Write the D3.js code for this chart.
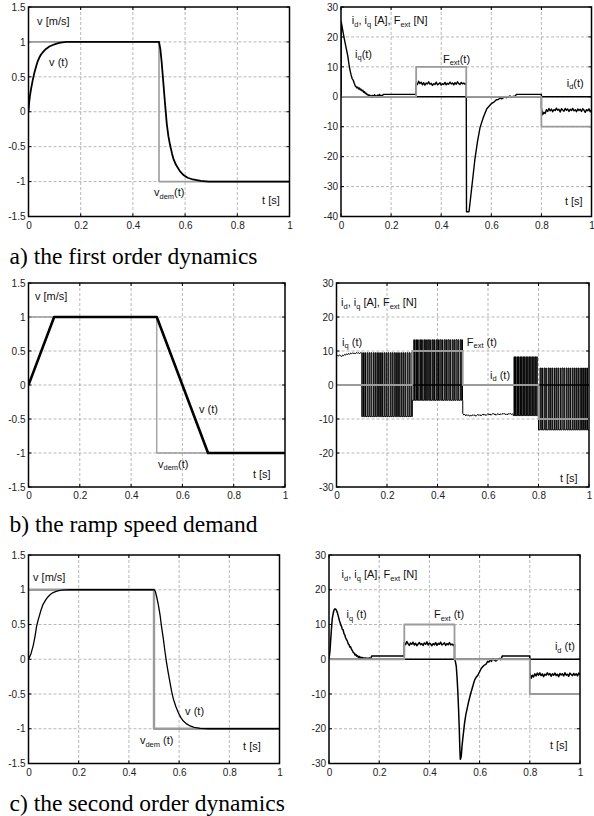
<!DOCTYPE html>
<html><head><meta charset="utf-8">
<script src="https://cdn.jsdelivr.net/npm/d3@7"></script>
<style>body{margin:0;background:#fff}svg{display:block}</style>
</head><body>
<script>
// ---------------- DATA ----------------
const tTicks = [0, 0.2, 0.4, 0.6, 0.8, 1];
const tTickLabels = ["0", "0.2", "0.4", "0.6", "0.8", "1"];
const vTicks = [-1.5, -1, -0.5, 0, 0.5, 1, 1.5];
const vTickLabels = ["-1.5", "-1", "-0.5", "0", "0.5", "1", "1.5"];
const iTicksA = [-40, -30, -20, -10, 0, 10, 20, 30];
const iTickLabelsA = ["-40", "-30", "-20", "-10", "0", "10", "20", "30"];
const iTicksBC = [-30, -20, -10, 0, 10, 20, 30];
const iTickLabelsBC = ["-30", "-20", "-10", "0", "10", "20", "30"];

// speed demand (same step for all three cases)
const vDem = [[0, 1], [0.5, 1], [0.5, -1], [1, -1]];
// external force (same for all three cases)
const fExt = [[0, 0], [0.3, 0], [0.3, 10], [0.5, 10], [0.5, 0], [0.8, 0], [0.8, -10], [1, -10]];
// d-axis current (all cases)
const idA = [[0, 0], [1, 0]];
const idB = [[0, 0], [1, 0]];
const idC = [[0, 0], [1, 0]];

// a) first order dynamics - speed
const vA = [[0,0],[0.003,0.15],[0.006,0.24],[0.01,0.33],[0.016,0.45],[0.022,0.55],[0.03,0.66],[0.035,0.72],
  [0.042,0.78],[0.048,0.82],[0.057,0.86],[0.067,0.9],[0.08,0.935],[0.093,0.956],[0.105,0.972],[0.118,0.985],
  [0.13,0.993],[0.145,1],[0.5,1],[0.505,0.9],[0.51,0.72],[0.517,0.4],[0.523,0.12],[0.53,-0.18],[0.536,-0.35],
  [0.542,-0.47],[0.55,-0.6],[0.555,-0.67],[0.565,-0.76],[0.58,-0.85],[0.595,-0.91],[0.61,-0.945],[0.63,-0.97],
  [0.66,-0.99],[0.69,-1],[1,-1]];
// a) q-axis current
const iqA = [[0,0],[0.001,25],[0.007,22.2],[0.013,19.4],[0.02,16.5],[0.027,13.7],[0.033,10.2],[0.037,8.5],[0.04,7.4],
  [0.044,6.2],[0.047,5.7],[0.05,5.3],[0.053,4.5],[0.057,3.6],[0.06,3.4],[0.063,3.0],[0.067,3.2],[0.07,2.6],[0.074,2.9],
  [0.077,2.3],[0.08,2.5],[0.084,2.0],[0.087,2.2],[0.09,1.5],[0.094,1.7],[0.097,1.1],[0.1,1.2],[0.104,0.7],[0.107,0.8],
  [0.11,0.3],[0.114,0.6],[0.117,0.1],[0.12,0.4],[0.124,-0.2],[0.127,0.5],[0.13,0.0],[0.134,0.7],[0.137,0.1],[0.14,0.4],
  [0.144,-0.1],[0.147,0.6],[0.15,0.2],[0.154,0.8],[0.157,0.0],[0.16,0.5],[0.164,0.2],[0.167,0.6],[0.17,0.8],[0.3,0.8],
  [0.3,4.6],[0.305,4.1],[0.31,5.2],[0.315,4.4],[0.32,4.9],[0.325,4.0],[0.33,4.7],[0.335,3.9],[0.34,4.6],[0.345,4.3],
  [0.35,5.0],[0.355,4.2],[0.36,4.5],[0.365,3.8],[0.37,4.4],[0.375,4.1],[0.38,4.9],[0.385,4.0],[0.39,4.3],[0.395,4.7],
  [0.4,3.9],[0.405,4.4],[0.41,4.1],[0.415,4.8],[0.42,4.0],[0.425,4.5],[0.43,4.2],[0.435,4.9],[0.44,4.3],[0.445,4.6],
  [0.45,4.0],[0.455,4.7],[0.46,4.2],[0.465,5.0],[0.47,4.4],[0.475,4.1],[0.48,4.8],[0.485,4.3],[0.49,4.6],[0.495,4.2],
  [0.5,4.5],[0.501,-38.4],[0.511,-38.4],[0.515,-35.5],[0.521,-31],[0.528,-25.8],[0.535,-20.6],[0.545,-14.9],
  [0.555,-10.3],[0.568,-6.9],[0.582,-4],[0.6,-2.3],[0.61,-1.8],[0.62,-1.0],[0.628,-0.9],[0.635,-0.4],[0.642,-0.7],
  [0.648,-0.3],[0.655,0.1],[0.66,-0.3],[0.668,0],[0.675,0.3],[0.68,-0.1],[0.69,0.2],[0.695,0.1],[0.7,0.8],[0.8,0.8],
  [0.8,-3.5],[0.805,-6.0],[0.81,-5.2],[0.815,-5.6],[0.82,-4.3],[0.825,-4.9],[0.83,-3.9],[0.835,-4.7],[0.84,-4.1],
  [0.845,-5.0],[0.85,-4.3],[0.855,-4.6],[0.86,-3.8],[0.865,-4.5],[0.87,-4.2],[0.875,-5.1],[0.88,-4.0],[0.885,-4.4],
  [0.89,-4.8],[0.895,-3.9],[0.9,-4.5],[0.905,-4.1],[0.91,-4.9],[0.915,-4.2],[0.92,-4.6],[0.925,-3.9],[0.93,-4.7],
  [0.935,-4.3],[0.94,-5.0],[0.945,-4.1],[0.95,-4.6],[0.955,-4.2],[0.96,-4.9],[0.965,-4.0],[0.97,-4.5],[0.975,-5.2],
  [0.98,-4.3],[0.985,-4.7],[0.99,-4.0],[0.995,-5.0],[1,-4.4]];

// b) ramp speed demand - speed
const vB = [[0, 0], [0.1, 1], [0.5, 1], [0.7, -1], [1, -1]];
// b) q-axis current: smooth parts
const iqB_start = [[0,8.4],[0.004,8.7],[0.008,8.5],[0.012,8.9],[0.016,8.6],[0.02,8.3],[0.024,8.8],[0.028,8.6],
  [0.032,9.0],[0.036,8.8],[0.04,9.2],[0.044,8.9],[0.048,9.3],[0.052,9.0],[0.056,9.4],[0.06,9.2],[0.064,9.5],
  [0.068,9.1],[0.072,9.4],[0.076,9.2],[0.08,9.6],[0.084,9.3],[0.088,9.5],[0.092,9.2],[0.096,9.6],[0.1,9.4]];
const iqB_mid = [[0.5,-8.3],[0.504,-8.8],[0.508,-8.6],[0.512,-9.1],[0.516,-8.7],[0.52,-9.0],[0.524,-8.8],[0.528,-9.2],
  [0.532,-8.9],[0.536,-9.1],[0.54,-8.7],[0.544,-9.0],[0.548,-8.8],[0.552,-9.2],[0.556,-8.9],[0.56,-8.6],[0.564,-9.0],
  [0.568,-8.7],[0.572,-9.1],[0.576,-8.8],[0.58,-8.5],[0.584,-8.9],[0.588,-8.6],[0.592,-9.0],[0.596,-8.7],[0.6,-8.4],
  [0.604,-8.8],[0.608,-8.5],[0.612,-8.9],[0.616,-8.6],[0.62,-8.3],[0.624,-8.7],[0.628,-8.5],[0.632,-8.9],[0.636,-8.6],
  [0.64,-8.4],[0.644,-8.8],[0.648,-8.5],[0.652,-8.7],[0.656,-8.4],[0.66,-8.6],[0.664,-8.3],[0.668,-8.7],[0.672,-8.5],
  [0.676,-8.8],[0.68,-8.4],[0.684,-8.6],[0.688,-8.3],[0.692,-8.7],[0.696,-8.5],[0.7,-8.6]];
// b) q-axis current: chattering intervals (levels and switching instants)
const chatB1Levels = [9.5, -9.3];
const chatB1Switch = [0.1,0.104,0.107,0.112,0.115,0.121,0.124,0.129,0.132,0.137,0.140,0.146,0.149,0.154,0.157,0.162,0.166,
  0.171,0.174,0.179,0.182,0.188,0.191,0.196,0.199,0.204,0.207,0.213,0.216,0.221,0.224,0.229,0.233,0.238,0.241,0.246,
  0.249,0.255,0.258,0.263,0.266,0.271,0.274,0.280,0.283,0.288,0.291,0.296,0.299,0.3];
const chatB2Levels = [13.3, -4.5];
const chatB2Switch = [0.3,0.306,0.309,0.314,0.317,0.321,0.324,0.330,0.333,0.337,0.340,0.346,0.349,0.353,0.356,0.361,0.365,
  0.369,0.372,0.378,0.381,0.385,0.388,0.394,0.397,0.401,0.404,0.409,0.413,0.417,0.420,0.426,0.429,0.433,0.436,0.441,
  0.445,0.449,0.452,0.458,0.461,0.465,0.468,0.473,0.477,0.481,0.484,0.490,0.493,0.496,0.499,0.5];
const chatB3Levels = [8.3, -9.0];
const chatB3Switch = [0.7,0.703,0.705,0.709,0.711,0.715,0.717,0.721,0.723,0.727,0.729,0.733,0.735,0.739,0.741,0.745,0.747,
  0.751,0.753,0.757,0.759,0.763,0.765,0.769,0.771,0.775,0.777,0.781,0.783,0.787,0.789,0.793,0.795,0.8];
const chatB4Levels = [5.0, -13.2];
const chatB4Switch = [0.8,0.806,0.809,0.813,0.816,0.822,0.825,0.829,0.831,0.838,0.841,0.845,0.848,0.853,0.856,0.862,0.864,
  0.869,0.872,0.877,0.880,0.886,0.888,0.893,0.897,0.901,0.904,0.910,0.913,0.918,0.921,0.926,0.928,0.934,0.937,0.942,
  0.945,0.950,0.953,0.958,0.961,0.967,0.970,0.975,0.978,0.983,0.986,0.991,0.994,1];

// c) second order dynamics - speed
const vC = [[0,0],[0.01,0.08],[0.019,0.2],[0.026,0.33],[0.032,0.47],[0.038,0.56],[0.043,0.62],[0.05,0.71],[0.058,0.79],
  [0.068,0.85],[0.078,0.9],[0.088,0.935],[0.098,0.96],[0.11,0.978],[0.125,0.99],[0.145,0.998],[0.17,1],[0.5,1],
  [0.505,0.98],[0.51,0.91],[0.517,0.79],[0.524,0.64],[0.53,0.47],[0.537,0.3],[0.543,0.13],[0.55,-0.05],[0.557,-0.2],
  [0.564,-0.34],[0.57,-0.46],[0.577,-0.57],[0.587,-0.68],[0.597,-0.77],[0.607,-0.84],[0.617,-0.89],[0.63,-0.93],
  [0.644,-0.96],[0.66,-0.98],[0.684,-0.995],[0.72,-1],[1,-1]];
// c) q-axis current
const iqC = [[0,0],[0.004,2.5],[0.007,5.8],[0.01,9],[0.013,11.7],[0.017,13.3],[0.02,14.2],[0.024,14.5],[0.027,14.4],
  [0.03,14],[0.033,13.5],[0.037,12.4],[0.042,11],[0.047,9.9],[0.05,9.4],[0.053,8.6],[0.056,8.5],[0.06,7.3],[0.063,7.0],
  [0.066,6.2],[0.07,5.6],[0.073,5.3],[0.076,4.5],[0.08,4.2],[0.083,3.5],[0.086,3.6],[0.09,2.8],[0.093,2.5],[0.096,2.0],
  [0.1,1.8],[0.104,1.2],[0.107,1.4],[0.11,0.9],[0.114,1.0],[0.117,0.5],[0.12,0.8],[0.124,0.3],[0.127,0.6],[0.13,0.2],
  [0.134,0.5],[0.137,0.1],[0.14,0.4],[0.144,0.0],[0.147,0.4],[0.15,0.1],[0.154,0.3],[0.157,0.0],[0.16,0.4],[0.164,0.1],
  [0.167,0.3],[0.17,0.9],[0.3,0.9],
  [0.3,4.8],[0.305,4.2],[0.31,5.1],[0.315,4.5],[0.32,4.0],[0.325,4.7],[0.33,4.3],[0.335,4.9],[0.34,4.1],[0.345,4.6],
  [0.35,3.9],[0.355,4.4],[0.36,4.8],[0.365,4.2],[0.37,4.5],[0.375,4.0],[0.38,4.7],[0.385,4.3],[0.39,5.0],[0.395,4.1],
  [0.4,4.6],[0.405,4.4],[0.41,3.9],[0.415,4.5],[0.42,4.2],[0.425,4.8],[0.43,4.0],[0.435,4.6],[0.44,4.3],[0.445,4.9],
  [0.45,4.1],[0.455,4.4],[0.46,4.7],[0.465,4.0],[0.47,4.5],[0.475,4.2],[0.48,4.8],[0.485,4.1],[0.49,4.4],[0.495,4.0],
  [0.5,4.3],[0.5,0.3],[0.503,-0.5],[0.507,-2],[0.51,-5],[0.513,-9],[0.516,-14],[0.519,-20],[0.521,-25],[0.523,-28.8],
  [0.525,-28.5],[0.527,-27.8],[0.53,-25],[0.533,-22.9],[0.537,-20.3],[0.54,-18.4],[0.545,-16],[0.551,-14],[0.557,-12],
  [0.564,-10],[0.572,-8],[0.58,-6],[0.587,-5.1],[0.593,-4.6],[0.6,-3.6],[0.607,-2.6],[0.617,-1.8],[0.627,-1.3],
  [0.632,-0.6],[0.637,-0.8],[0.642,-0.2],[0.647,-0.6],[0.652,0.1],[0.657,-0.2],[0.665,-0.5],[0.673,0],[0.68,0.2],
  [0.685,-0.1],[0.69,0.9],[0.8,0.9],
  [0.8,-3.8],[0.805,-5.5],[0.81,-4.6],[0.815,-5.1],[0.82,-4.2],[0.825,-4.8],[0.83,-4.0],[0.835,-4.6],[0.84,-3.9],
  [0.845,-4.7],[0.85,-4.2],[0.855,-5.0],[0.86,-4.3],[0.865,-4.6],[0.87,-3.9],[0.875,-4.5],[0.88,-4.1],[0.885,-4.9],
  [0.89,-4.2],[0.895,-4.6],[0.9,-4.0],[0.905,-4.7],[0.91,-4.3],[0.915,-5.0],[0.92,-4.1],[0.925,-4.5],[0.93,-4.2],
  [0.935,-4.8],[0.94,-3.9],[0.945,-4.6],[0.95,-4.3],[0.955,-4.9],[0.96,-4.0],[0.965,-4.4],[0.97,-4.7],[0.975,-4.1],
  [0.98,-4.6],[0.985,-4.2],[0.99,-4.8],[0.995,-4.0],[1,-4.5]];

const captions = ["a) the first order dynamics", "b) the ramp speed demand", "c) the second order dynamics"];

// ---------------- LAYOUT ----------------
const W = 594, H = 816;
const GRAY = "#9b9b9b";
const svg = d3.select("body").append("svg").attr("width", W).attr("height", H)
  .style("font-family", "'Liberation Sans', Arial, sans-serif");

function chatter(levels, sw) {
  // builds the switching waveform from its switching instants (starts at low level)
  const pts = [];
  let lvl = 1;
  pts.push([sw[0], levels[lvl]]);
  for (let k = 1; k < sw.length - 1; k++) {
    pts.push([sw[k], levels[lvl]]);
    lvl = 1 - lvl;
    pts.push([sw[k], levels[lvl]]);
  }
  pts.push([sw[sw.length - 1], levels[lvl]]);
  return pts;
}
const iqB = [].concat(iqB_start, chatter(chatB1Levels, chatB1Switch), chatter(chatB2Levels, chatB2Switch),
  iqB_mid, chatter(chatB3Levels, chatB3Switch), chatter(chatB4Levels, chatB4Switch));

function label(g, x, y, parts, size) {
  const t = g.append("text").attr("x", x).attr("y", y).attr("font-size", size).attr("fill", "#111");
  let sub = false;
  parts.forEach(p => {
    const s = t.append("tspan").text(p[0]);
    if (p[1] && !sub) { s.attr("font-size", size * 0.68).attr("dy", 2.5); sub = true; }
    else if (!p[1] && sub) { s.attr("dy", -2.5); sub = false; }
    else if (p[1]) { s.attr("font-size", size * 0.68); }
  });
}

function panel(cfg) {
  const g = svg.append("g");
  const x = d3.scaleLinear().domain([0, 1]).range([cfg.x0, cfg.x1]);
  const y = d3.scaleLinear().domain(cfg.ydom).range([cfg.y1, cfg.y0]);
  // grid
  g.append("g").selectAll("line").data(tTicks.slice(1, -1)).join("line")
    .attr("x1", d => x(d)).attr("x2", d => x(d)).attr("y1", cfg.y0).attr("y2", cfg.y1)
    .attr("stroke", "#888").attr("stroke-width", 0.6).attr("stroke-dasharray", "3,2");
  g.append("g").selectAll("line").data(cfg.yticks.slice(1, -1)).join("line")
    .attr("y1", d => y(d)).attr("y2", d => y(d)).attr("x1", cfg.x0).attr("x2", cfg.x1)
    .attr("stroke", "#888").attr("stroke-width", 0.6).attr("stroke-dasharray", "3,2");
  // axes labels
  const ax = g.append("g").attr("transform", `translate(0,${cfg.y1})`)
    .call(d3.axisBottom(x).tickValues(tTicks).tickFormat((d, i) => tTickLabels[i]).tickSize(0).tickPadding(5));
  const ay = g.append("g").attr("transform", `translate(${cfg.x0},0)`)
    .call(d3.axisLeft(y).tickValues(cfg.yticks).tickFormat((d, i) => cfg.ylabels[i]).tickSize(0).tickPadding(3));
  [ax, ay].forEach(a => {
    a.select(".domain").remove();
    a.selectAll("text").attr("font-size", 10).attr("fill", "#222").attr("font-family", "'Liberation Sans', Arial, sans-serif");
  });
  // inner ticks
  const tk = g.append("g").attr("stroke", "#000").attr("stroke-width", 1);
  tTicks.forEach(d => {
    tk.append("line").attr("x1", x(d)).attr("x2", x(d)).attr("y1", cfg.y1).attr("y2", cfg.y1 - 3);
    tk.append("line").attr("x1", x(d)).attr("x2", x(d)).attr("y1", cfg.y0).attr("y2", cfg.y0 + 3);
  });
  cfg.yticks.forEach(d => {
    tk.append("line").attr("y1", y(d)).attr("y2", y(d)).attr("x1", cfg.x0).attr("x2", cfg.x0 + 3);
    tk.append("line").attr("y1", y(d)).attr("y2", y(d)).attr("x1", cfg.x1).attr("x2", cfg.x1 - 3);
  });
  const line = d3.line().x(d => x(d[0])).y(d => y(d[1]));
  const clipId = "c" + Math.round(cfg.x0) + "_" + Math.round(cfg.y0);
  svg.append("clipPath").attr("id", clipId).append("rect")
    .attr("x", cfg.x0).attr("y", cfg.y0).attr("width", cfg.x1 - cfg.x0).attr("height", cfg.y1 - cfg.y0);
  const plot = g.append("g").attr("clip-path", `url(#${clipId})`);
  cfg.series.forEach(s => {
    plot.append("path").attr("d", line(s.data)).attr("fill", "none").attr("stroke", s.color)
      .attr("stroke-width", s.w).attr("stroke-linejoin", "round");
  });
  // box
  g.append("rect").attr("x", cfg.x0).attr("y", cfg.y0).attr("width", cfg.x1 - cfg.x0).attr("height", cfg.y1 - cfg.y0)
    .attr("fill", "none").attr("stroke", "#000").attr("stroke-width", 1.5);
  cfg.labels.forEach(l => label(g, x(l.t), y(l.v), l.parts, 11));
}

// row a
panel({x0: 28.5, x1: 289.5, y0: 7, y1: 216.5, ydom: [-1.5, 1.5], yticks: vTicks, ylabels: vTickLabels,
  series: [{data: vDem, color: GRAY, w: 1.6}, {data: vA, color: "#000", w: 1.8}],
  labels: [{t: 0.033, v: 1.24, parts: [["v [m/s]"]]}, {t: 0.079, v: 0.655, parts: [["v (t)"]]},
    {t: 0.481, v: -1.207, parts: [["v"], ["dem", 1], ["(t)"]]}, {t: 0.895, v: -1.321, parts: [["t [s]"]]}]});
panel({x0: 341, x1: 591.5, y0: 7, y1: 216.5, ydom: [-40, 30], yticks: iTicksA, ylabels: iTickLabelsA,
  series: [{data: iqA, color: "#000", w: 1.4}, {data: idA, color: "#000", w: 1.4}, {data: fExt, color: GRAY, w: 1.8}],
  labels: [{t: 0.043, v: 24.3, parts: [["i"], ["d", 1], [", i"], ["q", 1], [" [A], F"], ["ext", 1], [" [N]"]]},
    {t: 0.056, v: 13, parts: [["i"], ["q", 1], ["(t)"]]}, {t: 0.407, v: 11.3, parts: [["F"], ["ext", 1], ["(t)"]]},
    {t: 0.901, v: 3.3, parts: [["i"], ["d", 1], ["(t)"]]}, {t: 0.894, v: -36.2, parts: [["t [s]"]]}]});
// row b
panel({x0: 28.5, x1: 285, y0: 283, y1: 487, ydom: [-1.5, 1.5], yticks: vTicks, ylabels: vTickLabels,
  series: [{data: vDem, color: GRAY, w: 1.3}, {data: vB, color: "#000", w: 2.6}],
  labels: [{t: 0.025, v: 1.25, parts: [["v [m/s]"]]}, {t: 0.665, v: -0.41, parts: [["v (t)"]]},
    {t: 0.505, v: -1.22, parts: [["v"], ["dem", 1], ["(t)"]]}, {t: 0.875, v: -1.367, parts: [["t [s]"]]}]});
panel({x0: 336.5, x1: 589, y0: 283, y1: 487, ydom: [-30, 30], yticks: iTicksBC, ylabels: iTickLabelsBC,
  series: [{data: iqB, color: "#000", w: 1.0}, {data: idB, color: "#000", w: 1.4}, {data: fExt, color: GRAY, w: 1.8}],
  labels: [{t: 0.018, v: 23.2, parts: [["i"], ["d", 1], [", i"], ["q", 1], [" [A], F"], ["ext", 1], [" [N]"]]},
    {t: 0.022, v: 11.5, parts: [["i"], ["q", 1], [" (t)"]]}, {t: 0.516, v: 11.5, parts: [["F"], ["ext", 1], [" (t)"]]},
    {t: 0.608, v: 1.8, parts: [["i"], ["d", 1], [" (t)"]]}, {t: 0.885, v: -28.5, parts: [["t [s]"]]}]});
// row c
panel({x0: 28.5, x1: 279.5, y0: 555, y1: 763.5, ydom: [-1.5, 1.5], yticks: vTicks, ylabels: vTickLabels,
  series: [{data: vDem, color: GRAY, w: 2.4}, {data: vC, color: "#000", w: 1.3}],
  labels: [{t: 0.018, v: 1.13, parts: [["v [m/s]"]]}, {t: 0.624, v: -0.8, parts: [["v (t)"]]},
    {t: 0.444, v: -1.225, parts: [["v"], ["dem", 1], [" (t)"]]}, {t: 0.855, v: -1.3, parts: [["t [s]"]]}]});
panel({x0: 329, x1: 580, y0: 555, y1: 763.5, ydom: [-30, 30], yticks: iTicksBC, ylabels: iTickLabelsBC,
  series: [{data: iqC, color: "#000", w: 1.5}, {data: idC, color: "#000", w: 1.4}, {data: fExt, color: GRAY, w: 1.8}],
  labels: [{t: 0.05, v: 23.3, parts: [["i"], ["d", 1], [", i"], ["q", 1], [" [A], F"], ["ext", 1], [" [N]"]]},
    {t: 0.07, v: 11.8, parts: [["i"], ["q", 1], [" (t)"]]}, {t: 0.418, v: 11.8, parts: [["F"], ["ext", 1], [" (t)"]]},
    {t: 0.9, v: 2.6, parts: [["i"], ["d", 1], [" (t)"]]}, {t: 0.88, v: -25.9, parts: [["t [s]"]]}]});

// captions
[264, 532, 811].forEach((yy, i) => {
  svg.append("text").attr("x", 9.5).attr("y", yy).attr("font-size", 23.5)
    .attr("font-family", "'Liberation Serif', 'Times New Roman', serif").attr("fill", "#000").text(captions[i]);
});
</script>
</body></html>
